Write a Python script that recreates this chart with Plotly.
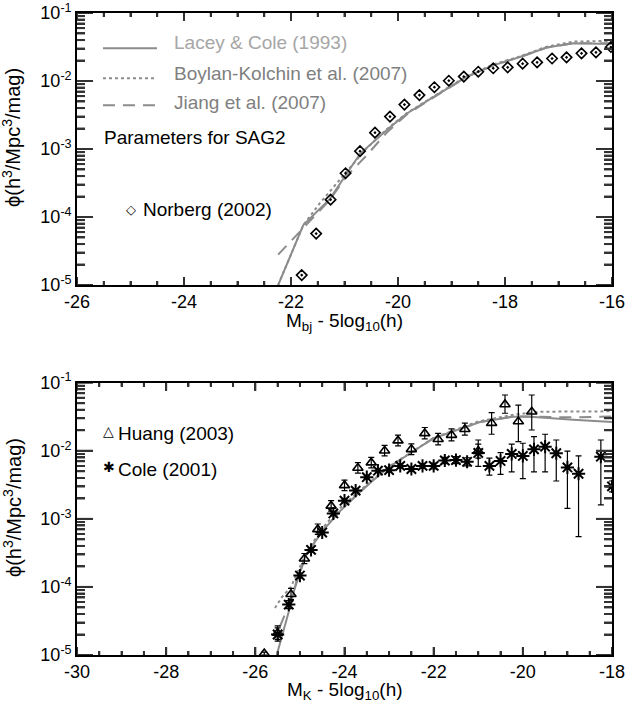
import plotly.graph_objects as go

# ---------------- top panel (b_J band) ----------------
norberg_mag = [-21.80, -21.53, -21.26, -20.98, -20.71, -20.43, -20.15, -19.88, -19.60, -19.32, -19.05,
               -18.77, -18.50, -18.22, -17.95, -17.67, -17.40, -17.12, -16.85, -16.57, -16.30, -16.02]
norberg_phi = [1.4e-5, 5.7e-5, 1.8e-4, 4.4e-4, 9.3e-4, 1.74e-3, 3.0e-3, 4.5e-3, 6.2e-3, 8.1e-3, 1.01e-2,
               1.16e-2, 1.37e-2, 1.54e-2, 1.59e-2, 1.8e-2, 1.88e-2, 2.14e-2, 2.23e-2, 2.55e-2, 2.64e-2, 3.16e-2]

top_lc_mag = [-22.24, -21.77, -21.27, -20.96, -20.71, -20.21, -19.84, -19.28, -18.72, -18.22, -17.72, -17.22, -16.72, -16.0]
top_lc_phi = [1.0e-5, 7.6e-5, 1.86e-4, 4.4e-4, 8.5e-4, 1.9e-3, 3.3e-3, 6.2e-3, 1.15e-2, 1.7e-2, 2.25e-2, 3.1e-2, 3.6e-2, 3.5e-2]

top_bk_mag = [-22.24, -21.77, -21.46, -21.15, -20.85, -20.60, -20.21, -19.84, -19.28, -18.72, -18.22, -17.72, -17.22, -16.72, -16.0]
top_bk_phi = [1.0e-5, 7.6e-5, 1.6e-4, 3.1e-4, 6.0e-4, 1.0e-3, 1.95e-3, 3.35e-3, 6.3e-3, 1.17e-2, 1.75e-2, 2.3e-2, 3.2e-2, 3.8e-2, 3.9e-2]

top_jg_mag = [-22.24, -21.93, -21.60, -21.27, -20.96, -20.59, -20.21, -19.84, -19.28, -18.72, -18.22, -17.72, -17.22, -16.72, -16.0]
top_jg_phi = [2.8e-5, 5.1e-5, 9.5e-5, 1.8e-4, 4.0e-4, 8.0e-4, 1.75e-3, 3.2e-3, 6.1e-3, 1.14e-2, 1.7e-2, 2.25e-2, 3.1e-2, 3.6e-2, 3.6e-2]

top_xrange = [-26, -16]
top_xticks = [-26, -24, -22, -20, -18, -16]
top_xlabels = ["-26", "-24", "-22", "-20", "-18", "-16"]

# ---------------- bottom panel (K band) ----------------
huang_mag = [-25.8, -25.5, -25.2, -24.9, -24.6, -24.3, -24.0, -23.7, -23.4, -23.1, -22.8,
             -22.5, -22.2, -21.9, -21.6, -21.3, -21.0, -20.7, -20.4, -20.1, -19.8]
huang_phi = [1.05e-5, 2.1e-5, 7.8e-5, 2.6e-4, 7.0e-4, 1.55e-3, 3.1e-3, 5.6e-3, 6.7e-3, 1.0e-2, 1.41e-2,
             1.05e-2, 1.8e-2, 1.48e-2, 1.7e-2, 2.07e-2, 9.9e-3, 2.55e-2, 4.8e-2, 2.7e-2, 3.75e-2]
huang_hi = [1.1e-5, 2.67e-5, 9.5e-5, 3.1e-4, 8.4e-4, 1.85e-3, 3.7e-3, 6.7e-3, 8.0e-3, 1.2e-2, 1.7e-2,
            1.26e-2, 2.2e-2, 1.8e-2, 2.1e-2, 2.55e-2, 1.25e-2, 3.63e-2, 6.6e-2, 4.7e-2, 6.6e-2]
huang_lo = [1.0e-5, 1.7e-5, 6.5e-5, 2.2e-4, 5.9e-4, 1.3e-3, 2.6e-3, 4.7e-3, 5.6e-3, 8.4e-3, 1.18e-2,
            8.8e-3, 1.5e-2, 1.22e-2, 1.4e-2, 1.7e-2, 7.8e-3, 1.75e-2, 3.56e-2, 1.36e-2, 2.02e-2]

cole_mag = [-25.5, -25.25, -25.0, -24.75, -24.5, -24.25, -24.0, -23.75, -23.5, -23.25, -23.0, -22.75,
            -22.5, -22.25, -22.0, -21.75, -21.5, -21.25, -21.0, -20.75, -20.5, -20.25, -20.0, -19.75,
            -19.5, -19.25, -19.0, -18.75, -18.25, -18.0]
cole_phi = [2.0e-5, 5.5e-5, 1.47e-4, 3.5e-4, 6.3e-4, 1.2e-3, 1.85e-3, 2.6e-3, 4.1e-3, 5.1e-3, 5.2e-3, 6.0e-3,
            5.4e-3, 6.0e-3, 6.0e-3, 7.2e-3, 7.3e-3, 6.9e-3, 9.3e-3, 6.0e-3, 7.1e-3, 9.0e-3, 8.4e-3, 1.05e-2,
            1.15e-2, 9.2e-3, 5.7e-3, 4.6e-3, 8.2e-3, 3.0e-3]
cole_hi = [2.5e-5, 6.3e-5, 1.6e-4, 3.75e-4, 6.7e-4, 1.27e-3, 1.95e-3, 2.75e-3, 4.3e-3, 5.4e-3, 5.5e-3, 6.4e-3,
           5.8e-3, 6.5e-3, 6.6e-3, 8.0e-3, 8.2e-3, 7.9e-3, 1.44e-2, 7.8e-3, 9.4e-3, 1.25e-2, 1.29e-2, 1.61e-2,
           1.75e-2, 1.44e-2, 9.9e-3, 8.4e-3, 1.44e-2, 3.6e-3]
cole_lo = [1.6e-5, 4.8e-5, 1.35e-4, 3.25e-4, 5.9e-4, 1.13e-3, 1.75e-3, 2.45e-3, 3.9e-3, 4.8e-3, 4.9e-3, 5.6e-3,
           5.0e-3, 5.5e-3, 5.4e-3, 6.5e-3, 6.5e-3, 6.0e-3, 5.9e-3, 4.4e-3, 4.5e-3, 4.9e-3, 3.9e-3, 4.9e-3,
           4.9e-3, 3.6e-3, 1.43e-3, 5.5e-4, 1.6e-3, 2.5e-3]

bot_lc_mag = [-25.52, -25.22, -25.07, -24.85, -24.47, -24.10, -23.65, -23.05, -22.01, -20.96, -20.21, -19.91, -18.87, -18.0]
bot_lc_phi = [1.0e-5, 5.1e-5, 1.27e-4, 3.1e-4, 6.9e-4, 1.3e-3, 2.5e-3, 5.5e-3, 1.52e-2, 2.65e-2, 3.17e-2, 3.2e-2, 2.85e-2, 2.65e-2]

bot_bk_mag = [-25.56, -25.41, -25.2, -24.85, -24.47, -24.10, -23.65, -23.05, -22.0, -21.0, -20.2, -19.6, -18.0]
bot_bk_phi = [4.9e-5, 7.0e-5, 1.0e-4, 3.3e-4, 7.6e-4, 1.45e-3, 2.6e-3, 5.6e-3, 1.55e-2, 2.7e-2, 3.4e-2, 3.75e-2, 3.8e-2]

bot_jg_mag = [-25.45, -25.22, -25.0, -24.85, -24.47, -24.10, -23.65, -23.05, -22.01, -20.96, -20.21, -18.9, -18.0]
bot_jg_phi = [2.6e-5, 6.0e-5, 1.6e-4, 3.1e-4, 6.9e-4, 1.3e-3, 2.5e-3, 5.5e-3, 1.52e-2, 2.65e-2, 3.2e-2, 3.1e-2, 3.2e-2]

bot_xrange = [-30, -18]
bot_xticks = [-30, -28, -26, -24, -22, -20, -18]
bot_xlabels = ["-30", "-28", "-26", "-24", "-22", "-20", "-18"]

ylog_range = [-5, -1]
yticks = [1e-5, 1e-4, 1e-3, 1e-2, 1e-1]
ylabels = ["10<sup>-5</sup>", "10<sup>-4</sup>", "10<sup>-3</sup>", "10<sup>-2</sup>", "10<sup>-1</sup>"]

FONT = "Liberation Sans, Arial, Helvetica, sans-serif"
GREY = "#8c8c8c"
TICKC = "#333333"

fig = go.Figure()

# ---- inward tick marks on all four sides (IDL style), one line trace per panel ----
PLOT_W = 535.0
PANEL_H = 272.3

def tick_trace(xa, ya, xr):
    xlo, xhi = xr
    ylo, yhi = ylog_range
    dx_per_px = (xhi - xlo) / PLOT_W
    dlog_per_px = (yhi - ylo) / PANEL_H
    xs, ys = [], []
    n = int(round((xhi - xlo) / 0.5))
    for i in range(n + 1):
        v = xlo + 0.5 * i
        major = abs(v / 2 - round(v / 2)) < 1e-9
        L = (8 if major else 4) * dlog_per_px
        xs += [v, v, None, v, v, None]
        ys += [10 ** ylo, 10 ** (ylo + L), None, 10 ** yhi, 10 ** (yhi - L), None]
    for e in range(ylo, yhi + 1):
        for m in range(1, 10):
            if e == yhi and m > 1:
                break
            yv = m * 10.0 ** e
            L = (16 if m == 1 else 8) * dx_per_px
            xs += [xlo, xlo + L, None, xhi, xhi - L, None]
            ys += [yv, yv, None, yv, yv, None]
    fig.add_trace(go.Scatter(x=xs, y=ys, mode="lines", xaxis=xa, yaxis=ya, connectgaps=False,
                             line=dict(color=TICKC, width=2, simplify=False),
                             showlegend=False, hoverinfo="skip"))

tick_trace("x", "y", top_xrange)
tick_trace("x2", "y2", bot_xrange)

def model_lines(xs, ys, xa, ya, dash):
    fig.add_trace(go.Scatter(x=xs, y=ys, mode="lines", xaxis=xa, yaxis=ya,
                             line=dict(color=GREY, width=2, dash=dash), showlegend=False, hoverinfo="skip"))

model_lines(top_lc_mag, top_lc_phi, "x", "y", "solid")
model_lines(top_bk_mag, top_bk_phi, "x", "y", "dot")
model_lines(top_jg_mag, top_jg_phi, "x", "y", "12px,8px")

fig.add_trace(go.Scatter(x=norberg_mag, y=norberg_phi, mode="markers", xaxis="x", yaxis="y",
                         marker=dict(symbol="diamond-open-dot", size=8, color="black",
                                     line=dict(color="black", width=1.6)), showlegend=False))

model_lines(bot_lc_mag, bot_lc_phi, "x2", "y2", "solid")
model_lines(bot_bk_mag, bot_bk_phi, "x2", "y2", "dot")
model_lines(bot_jg_mag, bot_jg_phi, "x2", "y2", "12px,8px")

fig.add_trace(go.Scatter(
    x=huang_mag, y=huang_phi, mode="markers", xaxis="x2", yaxis="y2",
    marker=dict(symbol="triangle-up-open", size=9, color="black", line=dict(color="black", width=1.6)),
    error_y=dict(type="data", symmetric=False,
                 array=[h - p for h, p in zip(huang_hi, huang_phi)],
                 arrayminus=[p - l for l, p in zip(huang_lo, huang_phi)],
                 color="black", thickness=1.2, width=3),
    showlegend=False))

fig.add_trace(go.Scatter(
    x=cole_mag, y=cole_phi, mode="markers", xaxis="x2", yaxis="y2",
    marker=dict(symbol="asterisk-open", size=11, color="black", line=dict(color="black", width=2)),
    error_y=dict(type="data", symmetric=False,
                 array=[h - p for h, p in zip(cole_hi, cole_phi)],
                 arrayminus=[p - l for l, p in zip(cole_lo, cole_phi)],
                 color="black", thickness=1.2, width=3),
    showlegend=False))

# native inward ticks as well (same positions/lengths as the tick traces above)
common = dict(showline=True, linecolor="black", linewidth=1.6, mirror="allticks", ticks="inside",
              tickcolor=TICKC, tickwidth=2, showgrid=False, zeroline=False, automargin=False,
              tickfont=dict(size=18, color="black", family=FONT))
xminor = dict(ticks="inside", ticklen=4, tickcolor=TICKC, tickwidth=2, dtick=0.5, tick0=0, showgrid=False)
yminor = dict(ticks="inside", ticklen=8, tickcolor=TICKC, tickwidth=2, dtick="D1", showgrid=False)

TOP = [0.5763, 1.0]
BOT = [0.0, 0.4241]

fig.update_layout(
    width=627, height=706, margin=dict(l=77, r=15, t=13, b=51, autoexpand=False),
    paper_bgcolor="white", plot_bgcolor="white",
    font=dict(family=FONT, size=18, color="black"),
    xaxis=dict(common, domain=[0, 1], anchor="y", range=top_xrange, ticklen=8, minor=xminor,
               tickmode="array", tickvals=top_xticks, ticktext=top_xlabels),
    yaxis=dict(common, domain=TOP, anchor="x", type="log", range=ylog_range, ticklen=16, minor=yminor,
               tickmode="array", tickvals=yticks, ticktext=ylabels),
    xaxis2=dict(common, domain=[0, 1], anchor="y2", range=bot_xrange, ticklen=8, minor=xminor,
                tickmode="array", tickvals=bot_xticks, ticktext=bot_xlabels),
    yaxis2=dict(common, domain=BOT, anchor="x2", type="log", range=ylog_range, ticklen=16, minor=yminor,
                tickmode="array", tickvals=yticks, ticktext=ylabels),
)

def ann(text, x, y, xref, yref, size=18, color="black", xanchor="left", yanchor="middle", angle=0):
    fig.add_annotation(text=text, x=x, y=y, xref=xref, yref=yref, showarrow=False,
                       xanchor=xanchor, yanchor=yanchor, textangle=angle, borderpad=0,
                       font=dict(size=size, color=color, family=FONT))

# axis titles
ann("M<sub>bj</sub> - 5log<sub>10</sub>(h)", 0.5, 0.5187, "paper", "paper", size=19, xanchor="center")
ann("M<sub>K</sub> - 5log<sub>10</sub>(h)", 0.5, -0.0561, "paper", "paper", size=19, xanchor="center")
ann("ϕ(h<sup>3</sup>/Mpc<sup>3</sup>/mag)", -0.1215, 0.8069, "paper", "paper", size=20, xanchor="center", angle=-90)
ann("ϕ(h<sup>3</sup>/Mpc<sup>3</sup>/mag)", -0.1215, 0.2305, "paper", "paper", size=20, xanchor="center", angle=-90)

# top legend
ann("Lacey &amp; Cole (1993)", 0.1794, 0.892, "x domain", "y domain", size=19, color="#a6a6a6")
ann("Boylan-Kolchin et al. (2007)", 0.1794, 0.7786, "x domain", "y domain", size=19, color="#808080")
ann("Jiang et al. (2007)", 0.1794, 0.672, "x domain", "y domain", size=19, color="#808080")
ann("Parameters for SAG2", 0.049, 0.5435, "x domain", "y domain", size=19)
ann("◇", 0.0905, 0.279, "x domain", "y domain", size=13)
ann("Norberg (2002)", 0.1215, 0.277, "x domain", "y domain", size=19)

for yy, dash in [(0.870, "solid"), (0.760, "dot"), (0.661, "12px,8px")]:
    fig.add_shape(type="line", xref="x domain", yref="y domain", x0=0.0486, x1=0.1495, y0=yy, y1=yy,
                  line=dict(color=GREY, width=2, dash=dash))

# bottom legend
ann("△", 0.0475, 0.822, "x2 domain", "y2 domain", size=14)
ann("Huang (2003)", 0.0748, 0.815, "x2 domain", "y2 domain", size=19)
ann("✱", 0.0465, 0.690, "x2 domain", "y2 domain", size=14)
ann("Cole (2001)", 0.0748, 0.683, "x2 domain", "y2 domain", size=19)

fig.write_html("out.html", config={"displayModeBar": False},
               post_script="document.body.style.margin='0';document.body.style.padding='0';")
